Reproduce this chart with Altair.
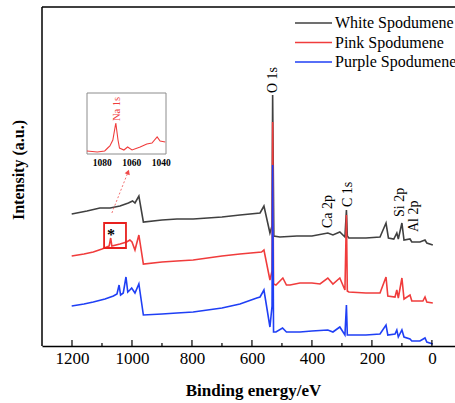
import altair as alt
import pandas as pd

SERIES = ["White Spodumene", "Pink Spodumene", "Purple Spodumene"]
COLORS = ["#404040", "#f03c3c", "#1f3ff5"]

# survey spectra (binding energy eV, intensity a.u.)
E_white = [1201, 1150, 1107, 1073, 1040, 1012, 998, 990, 977, 962,
           900, 850, 796, 700, 640, 573, 560, 540, 533, 531,
           527, 507, 450, 400, 347, 330, 307, 290, 285, 282,
           277, 220, 173, 153, 145, 127, 117, 112, 100, 93,
           73, 67, 40, 23, 17, -3]
I_white = [132, 135, 138, 138, 140, 143, 145, 143, 150, 124,
           126, 127, 127, 129, 131, 133, 140, 113, 120, 251,
           110, 109, 110, 110, 113, 111, 114, 109, 136, 110,
           108, 108, 109, 123, 108, 107, 113, 107, 123, 106,
           107, 104, 104, 106, 103, 101]

E_pink = [1201, 1160, 1129, 1100, 1076, 1071, 1067, 1040, 1018, 1007,
          1000, 990, 977, 962, 900, 850, 796, 700, 640, 568,
          560, 540, 533, 531, 528, 520, 497, 485, 473, 440,
          400, 373, 347, 330, 307, 290, 285, 282, 277, 220,
          173, 153, 147, 123, 117, 112, 100, 93, 73, 67,
          30, 23, 17, -3]
I_pink = [90, 92, 94, 97, 100, 108, 100, 102, 104, 106,
          104, 96, 111, 82, 84, 85, 86, 90, 92, 94,
          96, 66, 75, 224, 62, 61, 68, 61, 61, 63,
          63, 62, 68, 62, 68, 56, 131, 55, 54, 53,
          53, 69, 50, 49, 56, 48, 68, 47, 51, 45,
          45, 49, 44, 43]

E_purple = [1201, 1160, 1129, 1090, 1062, 1050, 1043, 1038, 1029, 1020,
            1014, 1007, 1001, 990, 977, 962, 900, 850, 796, 700,
            640, 584, 573, 560, 540, 533, 531, 528, 520, 498,
            485, 440, 400, 347, 330, 307, 290, 285, 282, 277,
            220, 173, 153, 147, 123, 117, 112, 100, 93, 73,
            67, 40, 23, 17, -3]
I_purple = [40, 42, 44, 47, 50, 52, 61, 51, 53, 69,
            54, 56, 58, 53, 62, 31, 32, 33, 34, 38,
            42, 48, 49, 56, 19, 40, 181, 14, 14, 18,
            14, 14, 15, 16, 14, 19, 11, 41, 11, 11,
            11, 12, 21, 11, 12, 16, 9, 16, 9, 7,
            5, 5, 8, 4, 2]

# peak labels
PEAK_LABELS = ["O 1s", "Ca 2p", "C 1s", "Si 2p", "Al 2p"]
PEAK_E = [530, 347, 280, 107, 60]
PEAK_I = [253, 118, 139, 129, 114]

# x-axis ticks
MAJOR_TICKS = [1200, 1000, 800, 600, 400, 200, 0]
MINOR_TICKS = [1100, 900, 700, 500, 300, 100]

# inset (Na 1s region)
E_na = [1090, 1083, 1078, 1076, 1074.5, 1072.5, 1070.5, 1069, 1068, 1065,
        1062.5, 1059.5, 1054, 1049.5, 1046, 1042.5, 1040.5, 1037]
I_na = [3, 2, 3, 6, 8, 14, 31, 14, 6, 4, 7, 4, 7, 10, 11, 17, 13, 12]
INSET_TICKS = [1080, 1060, 1040]

# marker box and arrow (binding energy, intensity)
BOX_E = [1093, 1020]
BOX_I = [98, 123]
STAR_E, STAR_I = 1070, 111
ARROW_E = [1067, 1013]
ARROW_I = [133, 174]

Y_TITLE = "Intensity (a.u.)"

W, H = 413, 339
FONT = "Liberation Serif"

x_main = alt.Scale(domain=[1300, -77], nice=False, zero=False)
y_main = alt.Scale(domain=[0, 339], nice=False, zero=False)

x_axis = alt.Axis(values=MAJOR_TICKS, format="d", labelFont=FONT, labelFontSize=17,
                  labelColor="black", labelPadding=4, ticks=False, tickSize=0,
                  tickColor="transparent", tickWidth=0,
                  domain=True, domainColor="black", domainWidth=1.5, grid=False,
                  title="Binding energy/eV", titleFont=FONT, titleFontSize=17,
                  titleFontWeight="bold", titleColor="black", titleX=211, titleY=49,
                  titleBaseline="alphabetic", titleAlign="center", orient="bottom")


def XM(field):
    return alt.X(field, scale=x_main, axis=x_axis)


def YM(field):
    return alt.Y(field, scale=y_main, axis=None)


def spectrum(E, I, i):
    df = pd.DataFrame({"E": E, "I": I})
    return alt.Chart(df).mark_line(strokeWidth=1.6, color=COLORS[i]).encode(
        x=XM("E:Q"), y=YM("I:Q"))


lines = [spectrum(E_white, I_white, 0), spectrum(E_pink, I_pink, 1),
         spectrum(E_purple, I_purple, 2)]

major = alt.Chart(pd.DataFrame({"E": MAJOR_TICKS})).mark_rule(color="black", strokeWidth=1.2).encode(
    x=XM("E:Q"), y=alt.value(H), y2=alt.value(H - 6))
minor = alt.Chart(pd.DataFrame({"E": MINOR_TICKS})).mark_rule(color="black", strokeWidth=1.2).encode(
    x=XM("E:Q"), y=alt.value(H), y2=alt.value(H - 3))
frame_df = pd.DataFrame({"a": [0]})
top_line = alt.Chart(frame_df).mark_rule(color="black", strokeWidth=1.5).encode(
    x=alt.value(0), x2=alt.value(W + 5), y=alt.value(0))
left_line = alt.Chart(frame_df).mark_rule(color="black", strokeWidth=1.5).encode(
    x=alt.value(0), y=alt.value(0), y2=alt.value(H))
y_title = alt.Chart(pd.DataFrame({"t": [Y_TITLE]})).mark_text(
    angle=270, align="center", baseline="alphabetic", font=FONT, fontSize=16,
    fontWeight="bold", color="black").encode(x=alt.value(-18), y=alt.value(163), text="t:N")

peaks = alt.Chart(pd.DataFrame({"label": PEAK_LABELS, "E": PEAK_E, "I": PEAK_I})).mark_text(
    angle=270, align="left", baseline="middle", font=FONT, fontSize=14, color="black").encode(
    x=XM("E:Q"), y=YM("I:Q"), text="label:N")

box = alt.Chart(pd.DataFrame({"e0": [BOX_E[0]], "e1": [BOX_E[1]], "i0": [BOX_I[0]],
                              "i1": [BOX_I[1]]})).mark_rect(
    fillOpacity=0, stroke="#e8201e", strokeWidth=1.8).encode(
    x=XM("e0:Q"), x2="e1:Q", y=YM("i0:Q"), y2="i1:Q")
star = alt.Chart(pd.DataFrame({"E": [STAR_E], "I": [STAR_I], "t": ["*"]})).mark_text(
    font=FONT, fontSize=16, fontWeight="bold", color="black", baseline="middle").encode(
    x=XM("E:Q"), y=YM("I:Q"), text="t:N")
arrow_df = pd.DataFrame({"E": ARROW_E, "I": ARROW_I, "k": [0, 1]})
arrow = alt.Chart(arrow_df).mark_line(color="#f06262", strokeWidth=0.9, strokeDash=[2, 2]).encode(
    x=XM("E:Q"), y=YM("I:Q"), order="k:Q")
head = alt.Chart(arrow_df[arrow_df.k == 1]).mark_point(
    shape="triangle-up", filled=True, color="#f04a4a", size=30, angle=21, opacity=1).encode(
    x=XM("E:Q"), y=YM("I:Q"))

main = alt.layer(*lines, major, minor, top_line, left_line, y_title, peaks, box, star, arrow, head)

# inset
x_in = alt.Scale(domain=[1090, 1036.5], range=[45, 124], nice=False, zero=False)
y_in = alt.Scale(domain=[0, 61], range=[147, 86], nice=False, zero=False)
in_axis = alt.Axis(values=INSET_TICKS, format="d", orient="bottom", offset=-(H - 147),
                   labelFont=FONT, labelFontSize=9.5, labelFontWeight="bold", labelColor="black",
                   labelPadding=3, ticks=False, tickSize=0, tickColor="transparent",
                   domain=False, grid=False, title=None)
XI = lambda f: alt.X(f, scale=x_in, axis=in_axis)
YI = lambda f: alt.Y(f, scale=y_in, axis=None)
inset_frame = alt.Chart(pd.DataFrame({"e0": [1090], "e1": [1036.5], "i0": [0], "i1": [61]})).mark_rect(
    fillOpacity=0, stroke="#8c8c8c", strokeWidth=1).encode(
    x=XI("e0:Q"), x2="e1:Q", y=YI("i0:Q"), y2="i1:Q")
inset_line = alt.Chart(pd.DataFrame({"E": E_na, "I": I_na})).mark_line(
    color=COLORS[1], strokeWidth=1.1).encode(x=XI("E:Q"), y=YI("I:Q"))
inset_label = alt.Chart(pd.DataFrame({"E": [1069.8], "I": [33], "t": ["Na 1s"]})).mark_text(
    angle=270, align="left", baseline="middle", font=FONT, fontSize=10.5, color=COLORS[1]).encode(
    x=XI("E:Q"), y=YI("I:Q"), text="t:N")
inset = alt.layer(inset_frame, inset_line, inset_label)

# legend
leg_df = pd.DataFrame({"series": SERIES})
leg_y = alt.Y("series:N", scale=alt.Scale(type="point", domain=SERIES, range=[16, 55], padding=0),
              axis=None)
leg_color = alt.Color("series:N", scale=alt.Scale(domain=SERIES, range=COLORS), legend=None)
leg_rule = alt.Chart(leg_df).mark_rule(strokeWidth=1.6).encode(
    x=alt.value(253), x2=alt.value(290), y=leg_y, color=leg_color)
leg_text = alt.Chart(leg_df).mark_text(align="left", baseline="middle", font=FONT, fontSize=16,
                                       color="black").encode(
    x=alt.value(293), y=leg_y, text="series:N")
legend = alt.layer(leg_rule, leg_text)

chart = alt.layer(main, inset, legend).resolve_scale(x="independent", y="independent").properties(
    width=W, height=H, autosize=alt.AutoSizeParams(type="none"),
    padding={"left": 42, "top": 7, "right": 0, "bottom": 57}, background="white"
).configure_view(stroke=None).configure_axis(
    tickOpacity=0, gridOpacity=0, grid=False
).configure_axisY(disable=True).configure_axisLeft(disable=True).configure_axisRight(disable=True)

chart.save("out.html", embed_options={"renderer": "svg", "actions": False})
